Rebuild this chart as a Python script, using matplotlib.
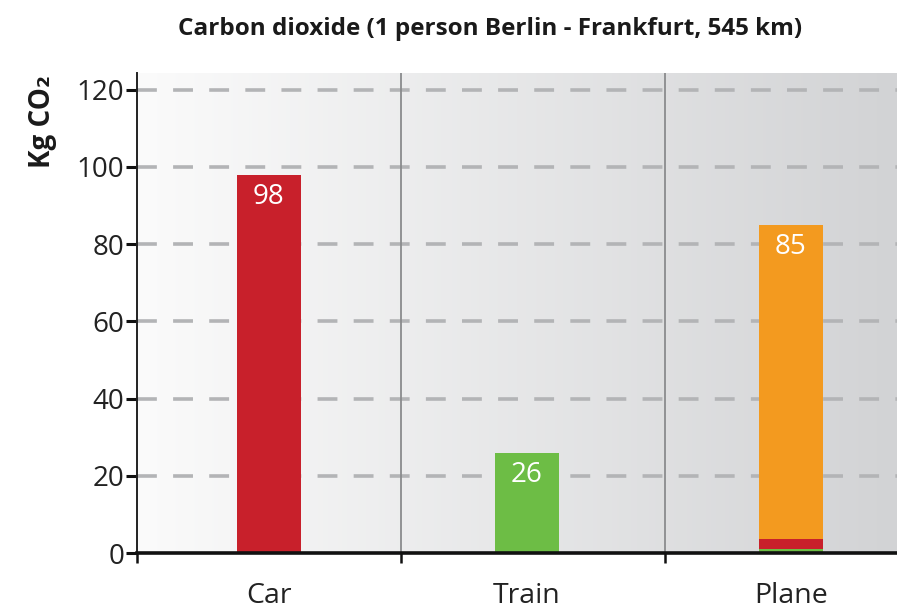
import numpy as np
import matplotlib
matplotlib.use("Agg")
import matplotlib.pyplot as plt
from matplotlib.colors import LinearSegmentedColormap

plt.rcParams['font.family'] = ['Open Sans', 'DejaVu Sans']

# data
categories = ['Car', 'Train', 'Plane']
totals = [98, 26, 85]
# plane is drawn as a stack: green part, red part, orange rest
plane_green = 1.0
plane_red = 2.6
bar_colors = ['#c8202b', '#6dbd45', '#f39a1f']
y_ticks = [0, 20, 40, 60, 80, 100, 120]

fig = plt.figure(figsize=(8.97, 6.10), dpi=100)
ax = fig.add_axes([137 / 897, 57 / 610, 760 / 897, 480 / 610])

x = np.arange(len(categories))
xmax = -0.5 + 760 / 264
ax.set_xlim(-0.5, xmax)
ax.set_ylim(0, 124.3)

# background gradient
grad = LinearSegmentedColormap.from_list('bg', ['#fbfbfb', '#d2d3d5'])
ax.imshow(np.linspace(0, 1, 256).reshape(1, -1), cmap=grad, aspect='auto',
          extent=[-0.5, xmax, 0, 124.3], zorder=0, interpolation='bicubic')

# dashed grid
for t in y_ticks[1:]:
    ax.axhline(t, color='#b3b4b6', lw=2.6, ls=(0, (5.5, 4.5)), zorder=1)

# panel separators
for s in [0.5, 1.5]:
    ax.axvline(s, color='#8a8b8d', lw=1.3, zorder=1)

# train and plane bars sit a little left of their panel centre
xb = x - 0.023 * np.minimum(x, 1)
w = 0.24
ax.bar(xb[0], totals[0], w, color=bar_colors[0], zorder=3)
ax.bar(xb[1], totals[1], w, color=bar_colors[1], zorder=3)
ax.bar(xb[2], plane_green, w, color=bar_colors[1], zorder=3)
ax.bar(xb[2], plane_red, w, bottom=plane_green, color=bar_colors[0], zorder=3)
ax.bar(xb[2], totals[2] - plane_green - plane_red, w,
       bottom=plane_green + plane_red, color=bar_colors[2], zorder=3)

for xi, v in zip(xb, totals):
    ax.text(xi, v - 5.8, str(v), ha='center', va='center', color='white',
            fontsize=20, zorder=4)

# axes styling
for side in ['top', 'right']:
    ax.spines[side].set_visible(False)
ax.spines['left'].set_color('#222222')
ax.spines['left'].set_linewidth(1.4)
ax.spines['bottom'].set_color('#111111')
ax.spines['bottom'].set_linewidth(2.6)
ax.spines['left'].set_zorder(5)
ax.spines['bottom'].set_zorder(5)

ax.set_yticks(y_ticks)
ax.tick_params(axis='y', length=8, width=2.2, color='#111111', labelsize=20,
               labelcolor='#222222', pad=1)
ax.set_xticks([-0.5, 0.5, 1.5])
ax.set_xticklabels([])
ax.tick_params(axis='x', length=7, width=1.8, color='#111111', direction='out')
for xi, c in zip(xb, categories):
    ax.text(xi, -11.2, c, ha='center', va='center', fontsize=20.5, color='#222222',
            clip_on=False)

fig.text(0.546, 0.953, 'Carbon dioxide (1 person Berlin - Frankfurt, 545 km)',
         ha='center', va='center', fontsize=17.5, fontweight='bold', color='#1a1a1a',
         family=['Open Sans', 'DejaVu Sans'])
fig.text(0.047, 0.8, 'Kg CO\u2082', rotation=90, ha='center', va='center',
         fontsize=20, fontweight='bold', color='#1a1a1a',
         family=['Open Sans', 'DejaVu Sans'])

fig.savefig('out.png', dpi=100)
